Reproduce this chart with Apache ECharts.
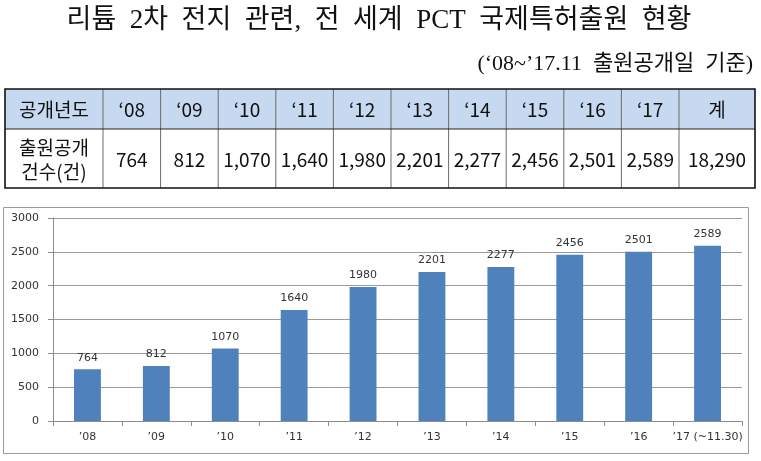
<!DOCTYPE html>
<html>
<head>
<meta charset="utf-8">
<script src="https://cdn.jsdelivr.net/npm/echarts@6/dist/echarts.min.js"></script>
<style>
html,body{margin:0;padding:0;background:#fff;}
#c{width:761px;height:461px;}
</style>
</head>
<body>
<div id="c"></div>
<script>
// ---- data ----
const titleText = '리튬 2차 전지 관련, 전 세계 PCT 국제특허출원 현황';
const subtitleText = '(‘08~’17.11 출원공개일 기준)';
const tableHeadLabel = '공개년도';
const tableRowLabel = ['출원공개', '건수(건)'];
const tableYears = ['‘08', '‘09', '‘10', '‘11', '‘12', '‘13', '‘14', '‘15', '‘16', '‘17'];
const tableTotalLabel = '계';
const categories = ['’08', '’09', '’10', '’11', '’12', '’13', '’14', '’15', '’16', '’17 (~11.30)'];
const counts = [764, 812, 1070, 1640, 1980, 2201, 2277, 2456, 2501, 2589];
const total = 18290;
const yMax = 3000;
const yInterval = 500;

// ---- table geometry ----
const KR = '"Noto Sans CJK KR", "Noto Sans", sans-serif';
const SERIF = '"Liberation Serif", "Noto Sans CJK KR", serif';
const tX0 = 5, tX1 = 103, tXLast = 679, tX2 = 755;
const tY0 = 89, tY1 = 129, tY2 = 188;
const colW = (tXLast - tX1) / tableYears.length;
const fmt = v => v.toLocaleString('en-US');
const wide = s => s.replace(/ /g, '\u2002');

const g = [];
g.push({type: 'rect', shape: {x: tX0, y: tY0, width: tX2 - tX0, height: tY1 - tY0}, style: {fill: '#c6d9f1'}, z: 1});
const edges = [tX1];
for (let i = 1; i <= tableYears.length; i++) edges.push(tX1 + colW * i);
edges.forEach(x => g.push({type: 'line', shape: {x1: x, y1: tY0, x2: x, y2: tY2}, style: {stroke: '#6b6b6b', lineWidth: 1}, z: 2}));
g.push({type: 'line', shape: {x1: tX0, y1: tY1, x2: tX2, y2: tY1}, style: {stroke: '#222', lineWidth: 1}, z: 2});
g.push({type: 'rect', shape: {x: tX0, y: tY0, width: tX2 - tX0, height: tY2 - tY0}, style: {fill: null, stroke: '#111', lineWidth: 1.6}, z: 3});

function cellText(str, cx, cy) {
  g.push({type: 'text', x: cx, y: cy, style: {text: str, font: '19px ' + KR, fill: '#111', align: 'center', verticalAlign: 'middle'}, z: 4});
}
const hy = (tY0 + tY1) / 2 + 1, dy = (tY1 + tY2) / 2 + 1;
cellText(tableHeadLabel, (tX0 + tX1) / 2, hy);
g.push({type: 'text', x: (tX0 + tX1) / 2, y: dy, style: {text: tableRowLabel.join('\n'), font: '19px ' + KR, lineHeight: 24, fill: '#111', align: 'center', verticalAlign: 'middle'}, z: 4});
tableYears.forEach((y, i) => {
  const cx = tX1 + colW * (i + 0.5);
  cellText(y, cx, hy);
  cellText(fmt(counts[i]), cx, dy);
});
cellText(tableTotalLabel, (tXLast + tX2) / 2, hy);
cellText(fmt(total), (tXLast + tX2) / 2, dy);

// title + subtitle
g.push({type: 'text', x: 379, y: 21, style: {text: wide(titleText), font: '27px ' + SERIF, fill: '#111', align: 'center', verticalAlign: 'middle'}, z: 4});
g.push({type: 'text', x: 753, y: 64, style: {text: wide(subtitleText), font: '22px ' + SERIF, fill: '#111', align: 'right', verticalAlign: 'middle'}, z: 4});

// chart frame
g.push({type: 'rect', shape: {x: 3.5, y: 207.5, width: 745, height: 246}, style: {fill: null, stroke: '#9a9a9a', lineWidth: 1}, z: 0});

const chart = echarts.init(document.getElementById('c'), null, {renderer: 'canvas'});
chart.setOption({
  animation: false,
  backgroundColor: '#fff',
  graphic: g,
  grid: {left: 53, right: 19, top: 218, bottom: 40},
  xAxis: {
    type: 'category',
    data: categories,
    axisLine: {lineStyle: {color: '#8c8c8c'}},
    axisTick: {show: true, length: 5, lineStyle: {color: '#8c8c8c'}},
    axisLabel: {fontSize: 11, color: '#333', margin: 11, fontFamily: '"DejaVu Sans", Verdana, sans-serif', interval: 0}
  },
  yAxis: {
    type: 'value',
    min: 0, max: yMax, interval: yInterval,
    axisLine: {show: true, lineStyle: {color: '#8c8c8c'}},
    axisTick: {show: true, length: 5, lineStyle: {color: '#8c8c8c'}},
    axisLabel: {fontSize: 11, color: '#333', margin: 14, fontFamily: '"DejaVu Sans", Verdana, sans-serif', formatter: v => String(v)},
    splitLine: {lineStyle: {color: '#9a9a9a'}}
  },
  series: [{
    type: 'bar',
    data: counts,
    barWidth: '39%',
    itemStyle: {color: '#4f81bd'},
    label: {show: true, position: 'top', distance: 6, fontSize: 11, color: '#333', fontFamily: '"DejaVu Sans", Verdana, sans-serif'}
  }]
});
</script>
</body>
</html>
